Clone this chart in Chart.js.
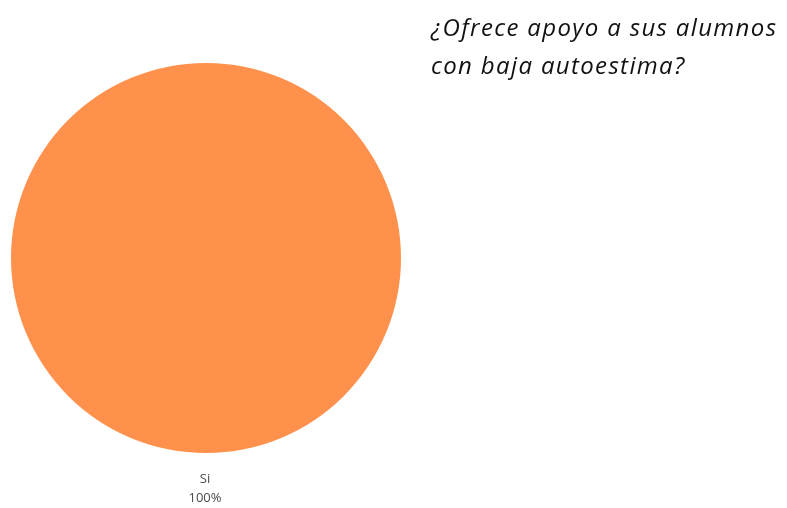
<!DOCTYPE html>
<html>
<head>
<meta charset="utf-8">
<script src="https://cdn.jsdelivr.net/npm/chart.js@4/dist/chart.umd.min.js"></script>
<style>
  html, body { margin: 0; padding: 0; background: #ffffff; }
  #wrap { position: relative; width: 787px; height: 508px; overflow: hidden; }
  #c { position: absolute; left: 0; top: 0; }
  #title {
    position: absolute; left: 431px; top: 8px; width: 356px;
    font-family: "Open Sans", sans-serif; font-style: italic; font-weight: 500;
    font-size: 24px; line-height: 38px; letter-spacing: 1.35px; color: #111111; white-space: nowrap;
  }
</style>
</head>
<body>
<div id="wrap">
  <canvas id="c" width="787" height="508"></canvas>
  <div id="title">¿Ofrece apoyo a sus alumnos<br>con baja autoestima?</div>
</div>
<script>
const categories = ["Si"];
const values = [100];
const percentLabels = ["100%"];
const colors = ["#FF914D"];

const labelPlugin = {
  id: "sliceLabels",
  afterDatasetsDraw(chart) {
    const ctx = chart.ctx;
    const meta = chart.getDatasetMeta(0);
    meta.data.forEach((arc, i) => {
      const x = arc.x;
      const y = arc.y + arc.outerRadius;
      ctx.save();
      ctx.fillStyle = "#4a4a4a";
      ctx.font = "13px 'Open Sans', sans-serif";
      ctx.textAlign = "center";
      ctx.textBaseline = "middle";
      ctx.fillText(categories[i], x - 1, y + 26);
      ctx.fillText(percentLabels[i], x - 1, y + 45);
      ctx.restore();
    });
  }
};

new Chart(document.getElementById("c"), {
  type: "pie",
  data: {
    labels: categories,
    datasets: [{
      data: values,
      backgroundColor: colors,
      borderWidth: 0
    }]
  },
  options: {
    responsive: false,
    animation: false,
    layout: { padding: { left: 11, right: 386, top: 63, bottom: 55 } },
    plugins: {
      legend: { display: false },
      tooltip: { enabled: false },
      title: { display: false }
    }
  },
  plugins: [labelPlugin]
});
</script>
</body>
</html>
